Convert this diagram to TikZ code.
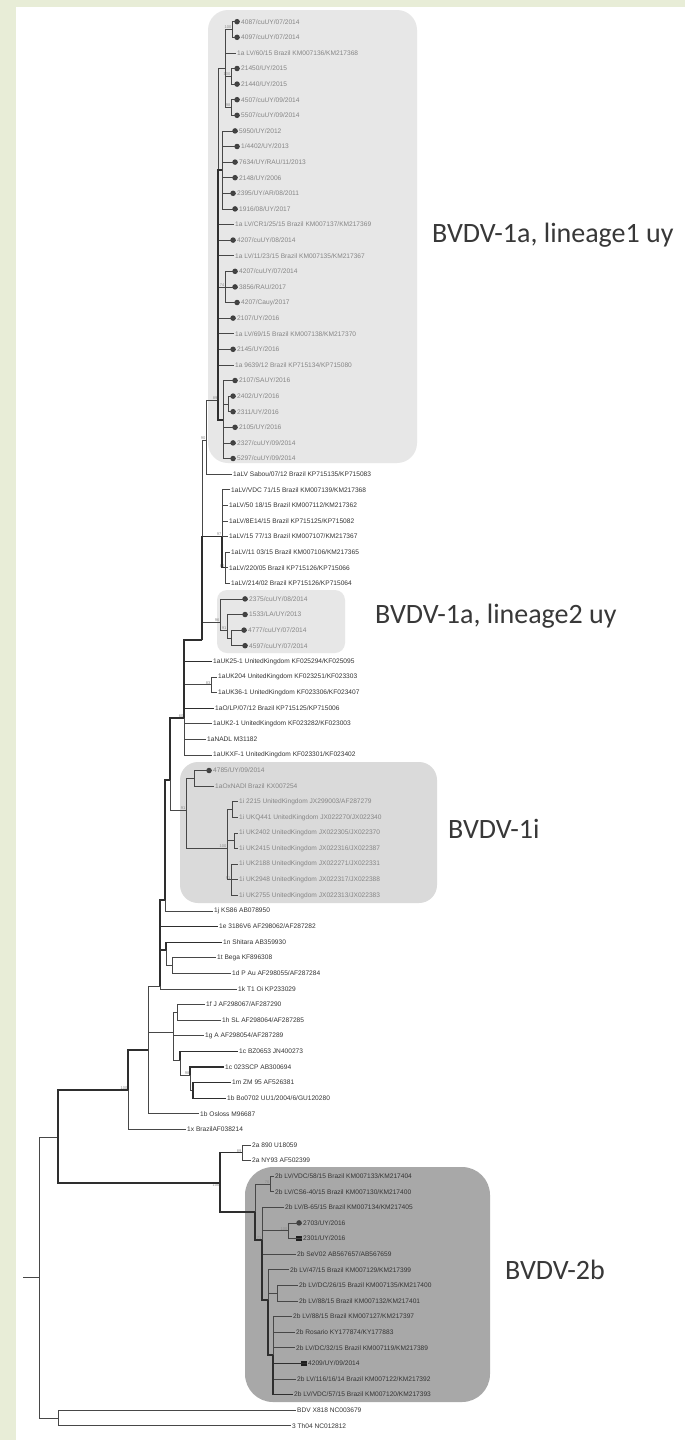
\documentclass[tikz,border=0pt]{standalone}
\usepackage{fontspec}
\newfontfamily\taxfont{Liberation Sans}
\newfontfamily\cladefont{Carlito}
\usetikzlibrary{positioning}
\definecolor{pagegreen}{RGB}{232,237,215}
\definecolor{boxlight}{RGB}{231,231,231}
\definecolor{boxmid}{RGB}{218,218,218}
\definecolor{boxdark}{RGB}{168,168,168}
\newcommand{\ly}[1]{21.7+15.6*#1}
\tikzset{
  br/.style={line width=0.6pt,black!72},
  brk/.style={line width=1.2pt,black!82},
  tx/.style={font={\taxfont\fontsize{6.6}{7.5}\selectfont},text=black!80,anchor=west,inner sep=1pt},
  txg/.style={tx,text=black!48},
  sdot/.style={circle,fill=black!75,inner sep=0pt,minimum size=5.5pt},
  sqr/.style={rectangle,fill=black!88,inner sep=0pt,minimum size=5.5pt},
  smp/.style={label={[sdot]left:{}}},   % sampled in Uruguay
  sqleaf/.style={label={[sqr]left:{}}},
  bs/.style={font={\taxfont\fontsize{4}{4}\selectfont},text=black!45,inner sep=0.4pt},
  clade/.style={font={\cladefont\fontsize{28}{30}\selectfont},text=black!78,anchor=west,inner sep=0pt},
}

\begin{document}
\begin{tikzpicture}[x=1pt,y=-1pt]
  \useasboundingbox (0,0) rectangle (685,1440);
  \fill[white] (0,0) rectangle (685,1440);
  \fill[pagegreen] (0,0) rectangle (685,7);
  \fill[pagegreen] (0,0) rectangle (16,1440);
  % ---- clade boxes ----
  \fill[boxlight,rounded corners=20pt] (208,10) rectangle (417,463);
  \fill[boxlight,rounded corners=10pt] (217,590) rectangle (345,653);
  \fill[boxmid,rounded corners=18pt] (180,762) rectangle (437,903);
  \fill[boxdark,rounded corners=28pt] (245,1167) rectangle (490,1402);
  \node[clade] (cl1) at (432,235) {BVDV-1a, lineage1 uy};
  \node[clade] (cl2) at (375,616) {BVDV-1a, lineage2 uy};
  \node[clade] (cl3) at (448,829) {BVDV-1i};
  \node[clade] (cl4) at (505,1270) {BVDV-2b};
  % ---- taxa ----
  \node[txg,smp] (t0) at (240,{\ly{0}}) {4087/cuUY/07/2014};
  \node[txg,smp] (t1) at (240,{\ly{1}}) {4097/cuUY/07/2014};
  \node[txg] (t2) at (236,{\ly{2}}) {1a LV/60/15 Brazil KM007136/KM217368};
  \node[txg,smp] (t3) at (240,{\ly{3}}) {21450/UY/2015};
  \node[txg,smp] (t4) at (240,{\ly{4}}) {21440/UY/2015};
  \node[txg,smp] (t5) at (240,{\ly{5}}) {4507/cuUY/09/2014};
  \node[txg,smp] (t6) at (240,{\ly{6}}) {5507/cuUY/09/2014};
  \node[txg,smp] (t7) at (238,{\ly{7}}) {5950/UY/2012};
  \node[txg,smp] (t8) at (240,{\ly{8}}) {1/4402/UY/2013};
  \node[txg,smp] (t9) at (238,{\ly{9}}) {7634/UY/RAU/11/2013};
  \node[txg,smp] (t10) at (238,{\ly{10}}) {2148/UY/2006};
  \node[txg,smp] (t11) at (236,{\ly{11}}) {2395/UY/AR/08/2011};
  \node[txg,smp] (t12) at (238,{\ly{12}}) {1916/08/UY/2017};
  \node[txg] (t13) at (234,{\ly{13}}) {1a LV/CR1/25/15 Brazil KM007137/KM217369};
  \node[txg,smp] (t14) at (236,{\ly{14}}) {4207/cuUY/08/2014};
  \node[txg] (t15) at (234,{\ly{15}}) {1a LV/11/23/15 Brazil KM007135/KM217367};
  \node[txg,smp] (t16) at (238,{\ly{16}}) {4207/cuUY/07/2014};
  \node[txg,smp] (t17) at (238,{\ly{17}}) {3856/RAU/2017};
  \node[txg,smp] (t18) at (240,{\ly{18}}) {4207/Cauy/2017};
  \node[txg,smp] (t19) at (236,{\ly{19}}) {2107/UY/2016};
  \node[txg] (t20) at (234,{\ly{20}}) {1a LV/69/15 Brazil KM007138/KM217370};
  \node[txg,smp] (t21) at (236,{\ly{21}}) {2145/UY/2016};
  \node[txg] (t22) at (234,{\ly{22}}) {1a 9639/12 Brazil KP715134/KP715080};
  \node[txg,smp] (t23) at (238,{\ly{23}}) {2107/SAUY/2016};
  \node[txg,smp] (t24) at (236,{\ly{24}}) {2402/UY/2016};
  \node[txg,smp] (t25) at (236,{\ly{25}}) {2311/UY/2016};
  \node[txg,smp] (t26) at (238,{\ly{26}}) {2105/UY/2016};
  \node[txg,smp] (t27) at (236,{\ly{27}}) {2327/cuUY/09/2014};
  \node[txg,smp] (t28) at (236,{\ly{28}}) {5297/cuUY/09/2014};
  \node[tx] (t29) at (232,{\ly{29}}) {1aLV Sabou/07/12 Brazil KP715135/KP715083};
  \node[tx] (t30) at (230,{\ly{30}}) {1aLV/VDC 71/15 Brazil KM007139/KM217368};
  \node[tx] (t31) at (228,{\ly{31}}) {1aLV/50 18/15 Brazil KM007112/KM217362};
  \node[tx] (t32) at (228,{\ly{32}}) {1aLV/8E14/15 Brazil KP715125/KP715082};
  \node[tx] (t33) at (228,{\ly{33}}) {1aLV/15 77/13 Brazil KM007107/KM217367};
  \node[tx] (t34) at (230,{\ly{34}}) {1aLV/11 03/15 Brazil KM007106/KM217365};
  \node[tx] (t35) at (228,{\ly{35}}) {1aLV/220/05 Brazil KP715126/KP715066};
  \node[tx] (t36) at (230,{\ly{36}}) {1aLV/214/02 Brazil KP715126/KP715064};
  \node[txg,smp] (t37) at (248,{\ly{37}}) {2375/cuUY/08/2014};
  \node[txg,smp] (t38) at (248,{\ly{38}}) {1533/LA/UY/2013};
  \node[txg,smp] (t39) at (247,{\ly{39}}) {4777/cuUY/07/2014};
  \node[txg,smp] (t40) at (248,{\ly{40}}) {4597/cuUY/07/2014};
  \node[tx] (t41) at (212,{\ly{41}}) {1aUK25-1 UnitedKingdom KF025294/KF025095};
  \node[tx] (t42) at (217,{\ly{42}}) {1aUK204 UnitedKingdom KF023251/KF023303};
  \node[tx] (t43) at (217,{\ly{43}}) {1aUK36-1 UnitedKingdom KF023306/KF023407};
  \node[tx] (t44) at (214,{\ly{44}}) {1aO/LP/07/12 Brazil KP715125/KP715006};
  \node[tx] (t45) at (212,{\ly{45}}) {1aUK2-1 UnitedKingdom KF023282/KF023003};
  \node[tx] (t46) at (206,{\ly{46}}) {1aNADL M31182};
  \node[tx] (t47) at (212,{\ly{47}}) {1aUKXF-1 UnitedKingdom KF023301/KF023402};
  \node[txg,smp] (t48) at (212,{\ly{48}}) {4785/UY/09/2014};
  \node[txg] (t49) at (214,{\ly{49}}) {1aOxNADl Brazil KX007254};
  \node[txg] (t50) at (238,{\ly{50}}) {1i 2215 UnitedKingdom JX299003/AF287279};
  \node[txg] (t51) at (238,{\ly{51}}) {1i UKQ441 UnitedKingdom JX022270/JX022340};
  \node[txg] (t52) at (238,{\ly{52}}) {1i UK2402 UnitedKingdom JX022305/JX022370};
  \node[txg] (t53) at (238,{\ly{53}}) {1i UK2415 UnitedKingdom JX022316/JX022387};
  \node[txg] (t54) at (238,{\ly{54}}) {1i UK2188 UnitedKingdom JX022271/JX022331};
  \node[txg] (t55) at (238,{\ly{55}}) {1i UK2948 UnitedKingdom JX022317/JX022388};
  \node[txg] (t56) at (238,{\ly{56}}) {1i UK2755 UnitedKingdom JX022313/JX022383};
  \node[tx] (t57) at (213,{\ly{57}}) {1j KS86 AB078950};
  \node[tx] (t58) at (218,{\ly{58}}) {1e 3186V6 AF298062/AF287282};
  \node[tx] (t59) at (222,{\ly{59}}) {1n Shitara AB359930};
  \node[tx] (t60) at (216,{\ly{60}}) {1t Bega KF896308};
  \node[tx] (t61) at (231,{\ly{61}}) {1d P Au AF298055/AF287284};
  \node[tx] (t62) at (237,{\ly{62}}) {1k T1 Oi KP233029};
  \node[tx] (t63) at (205,{\ly{63}}) {1f J AF298067/AF287290};
  \node[tx] (t64) at (221,{\ly{64}}) {1h SL AF298064/AF287285};
  \node[tx] (t65) at (204,{\ly{65}}) {1g A AF298054/AF287289};
  \node[tx] (t66) at (238,{\ly{66}}) {1c BZ0653 JN400273};
  \node[tx] (t67) at (224,{\ly{67}}) {1c 023SCP AB300694};
  \node[tx] (t68) at (231,{\ly{68}}) {1m ZM 95 AF526381};
  \node[tx] (t69) at (226,{\ly{69}}) {1b Bo0702 UU1/2004/6/GU120280};
  \node[tx] (t70) at (199,{\ly{70}}) {1b Osloss M96687};
  \node[tx] (t71) at (186,{\ly{71}}) {1x BrazilAF038214};
  \node[tx] (t72) at (251,{\ly{72}}) {2a 890 U18059};
  \node[tx] (t73) at (251,{\ly{73}}) {2a NY93 AF502399};
  \node[tx] (t74) at (274,{\ly{74}}) {2b LV/VDC/58/15 Brazil KM007133/KM217404};
  \node[tx] (t75) at (274,{\ly{75}}) {2b LV/CS6-40/15 Brazil KM007130/KM217400};
  \node[tx] (t76) at (284,{\ly{76}}) {2b LV/B-65/15 Brazil KM007134/KM217405};
  \node[tx,smp] (t77) at (302,{\ly{77}}) {2703/UY/2016};
  \node[tx,sqleaf] (t78) at (302,{\ly{78}}) {2301/UY/2016};
  \node[tx] (t79) at (296,{\ly{79}}) {2b SeV02 AB567657/AB567659};
  \node[tx] (t80) at (289,{\ly{80}}) {2b LV/47/15 Brazil KM007129/KM217399};
  \node[tx] (t81) at (298,{\ly{81}}) {2b LV/DC/26/15 Brazil KM007135/KM217400};
  \node[tx] (t82) at (298,{\ly{82}}) {2b LV/88/15 Brazil KM007132/KM217401};
  \node[tx] (t83) at (292,{\ly{83}}) {2b LV/88/15 Brazil KM007127/KM217397};
  \node[tx] (t84) at (295,{\ly{84}}) {2b Rosario KY177874/KY177883};
  \node[tx] (t85) at (295,{\ly{85}}) {2b LV/DC/32/15 Brazil KM007119/KM217389};
  \node[tx,sqleaf] (t86) at (307,{\ly{86}}) {4209/UY/09/2014};
  \node[tx] (t87) at (296,{\ly{87}}) {2b LV/116/16/14 Brazil KM007122/KM217392};
  \node[tx] (t88) at (293,{\ly{88}}) {2b LV/VDC/57/15 Brazil KM007120/KM217393};
  \node[tx] (t89) at (296,{\ly{89}}) {BDV X818 NC003679};
  \node[tx] (t90) at (291,{\ly{90}}) {3 Th04 NC012812};
  % ---- internal nodes (bootstrap above left) ----
  \coordinate[label={[bs]above left:100}] (nP01) at (232,29.5);
  \coordinate[label={[bs]above left:100}] (nP34) at (231,76.3);
  \coordinate[label={[bs]above left:98}] (nP56) at (231,107.5);
  \coordinate (nLa) at (225,68.5);
  \coordinate (nLd) at (222,170);
  \coordinate[label={[bs]above left:74}] (nLe) at (225,287);
  \coordinate (nP2425) at (228,403.9);
  \coordinate (nLf) at (223,420);
  \coordinate[label={[bs]above left:89}] (nL1) at (218,400);
  \coordinate[label={[bs]above left:90}] (nF5) at (206,440);
  \coordinate[label={[bs]above left:80}] (nBR2) at (225,567.7);
  \coordinate[label={[bs]above left:97}] (nBR) at (222,536.5);
  \coordinate (nL2c) at (231,637.9);
  \coordinate[label={[bs]above left:91}] (nL2b) at (227,630.1);
  \coordinate[label={[bs]above left:96}] (nL2) at (220,622.3);
  \coordinate (nF4) at (202,640);
  \coordinate[label={[bs]above left:83}] (nUK) at (211,684.7);
  \coordinate[label={[bs]above left:60}] (nF) at (184,718);
  \coordinate (nI1) at (194,778.3);
  \coordinate (nIa) at (232,809.5);
  \coordinate (nIb) at (234,840.7);
  \coordinate[label={[bs]above left:91}] (nIc) at (231,879.7);
  \coordinate[label={[bs]above left:100}] (nIU) at (227,848);
  \coordinate[label={[bs]above left:91}] (nI) at (186,810);
  \coordinate (nE) at (170,780);
  \coordinate (nBb) at (165,900);
  \coordinate (nD) at (172,965.5);
  \coordinate (nC) at (166,950);
  \coordinate (nA) at (160,986);
  \coordinate (nFH) at (177,1012.3);
  \coordinate (nMb) at (193,1090.3);
  \coordinate[label={[bs]above left:98}] (nCm) at (190,1075);
  \coordinate (nCc) at (180,1060);
  \coordinate (nG) at (173,1032);
  \coordinate (nB1a) at (148,1050);
  \coordinate[label={[bs]above left:100}] (nB1) at (128,1090);
  \coordinate[label={[bs]above left:89}] (nA2) at (242,1152.7);
  \coordinate[label={[bs]above left:76}] (n2b1) at (270,1183.9);
  \coordinate[label={[bs]above left:100}] (nDS) at (288,1230.7);
  \coordinate (nPP) at (277,1293.1);
  \coordinate (n2b4) at (273,1355);
  \coordinate (n2b3) at (268,1300);
  \coordinate[label={[bs]above left:71}] (n2b2) at (262,1240);
  \coordinate (n2b) at (255,1212);
  \coordinate[label={[bs]below left:100}] (nB2) at (220,1183);
  \coordinate (n1) at (58,1137);
  \coordinate (nO) at (58,1418);
  \coordinate (r) at (39,1277);
  \coordinate (rs) at (23,1277);
  % ---- branches ----
  \draw[br] (rs) -- (r);
  \foreach \p/\kids in {nP01/{t0,t1},nP34/{t3,t4},nP56/{t5,t6},nLa/{nP01,t2,nP34,nP56},
      nLd/{t7,t8,t9,t10,t11,t12},nLe/{t16,t17,t18},nP2425/{t24,t25},nLf/{t23,nP2425,t26,t27,t28},
      nL1/{nLa,nLd,t13,t14,t15,nLe,t19,t20,t21,t22,nLf},nF5/{nL1,t29},
      nBR2/{t34,t35,t36},nBR/{t30,t31,t32,t33,nBR2},nL2c/{t39,t40},nL2b/{t38,nL2c},nL2/{t37,nL2b},
      nF4/{nF5,nBR,nL2},nUK/{t42,t43},nF/{nF4,t41,nUK,t44,t45,t46,t47},
      nI1/{t48,t49},nIa/{t50,t51},nIb/{t52,t53},nIc/{t54,t55,t56},nIU/{nIa,nIb,nIc},nI/{nI1,nIU},
      nE/{nF,nI},nBb/{nE,t57},nD/{t60,t61},nC/{t59,nD},nA/{nBb,t58,nC,t62},
      nFH/{t63,t64},nMb/{t68,t69},nCm/{t67,nMb},nCc/{t66,nCm},nG/{nFH,t65,nCc},
      nB1a/{nA,nG,t70},nB1/{nB1a,t71},nA2/{t72,t73},n2b1/{t74,t75},nDS/{t77,t78},nPP/{t81,t82},
      n2b4/{t83,t84,t85,t86,t87,t88},n2b3/{t80,nPP,n2b4},n2b2/{t76,nDS,t79,n2b3},n2b/{n2b1,n2b2},
      nB2/{nA2,n2b},n1/{nB1,nB2},nO/{t89,t90},r/{n1,nO}}
    {\foreach \k in \kids {\draw[br] (\p) |- (\k);}}
  % heavier backbone segments
  \foreach \p/\k in {n1/nB1,n1/nB2,nB1/nB1a,nB2/nA2,nB2/n2b,n2b/n2b2,n2b2/n2b3,n2b3/n2b4,
      nA/nBb,nA/t58,nA/nC,nC/t59,nBb/nE,nE/nF,nF/nF4,nF4/nBR,nBR/nBR2,nF/t41,nF/t44,
      nL1/nLd,nL1/nLf,nCc/t66,nMb/t68,nMb/t69,nCm/t67,n2b4/t86,n2b4/t88}
    {\draw[brk] (\p) |- (\k);}
\end{tikzpicture}
\end{document}
